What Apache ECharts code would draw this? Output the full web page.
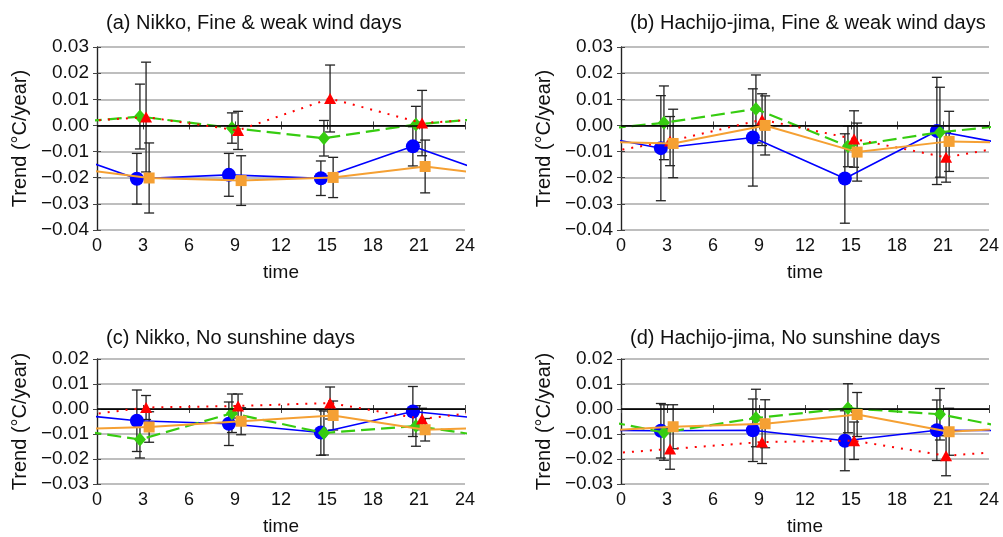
<!DOCTYPE html>
<html>
<head>
<meta charset="utf-8">
<script src="https://cdn.jsdelivr.net/npm/echarts@6/dist/echarts.min.js"></script>
<style>
html,body{margin:0;padding:0;background:#fff;}
#chart{width:1003px;height:537px;}
</style>
</head>
<body>
<div id="chart"></div>
<script>
// ---------------- data ----------------
const times = [3, 9, 15, 21];
const xTicks = [0, 3, 6, 9, 12, 15, 18, 21, 24];

const panelTitles = [
  '(a) Nikko, Fine & weak wind days',
  '(b) Hachijo-jima, Fine & weak wind days',
  '(c) Nikko, No sunshine days',
  '(d) Hachijo-jima, No sunshine days'
];

// Panel (a)
const blueA    = [-0.0204, -0.0189, -0.0202, -0.0080];
const blueAErr = [ 0.0097,  0.0082,  0.0066,  0.0075];
const greenA    = [ 0.0034, -0.0010, -0.0049,  0.0004];
const greenAErr = [ 0.0124,  0.0058,  0.0068,  0.0069];
const redA    = [ 0.0032, -0.0019,  0.0103,  0.0009];
const redAErr = [ 0.0210,  0.0073,  0.0128,  0.0125];
const orangeA    = [-0.0201, -0.0211, -0.0199, -0.0157];
const orangeAErr = [ 0.0134,  0.0095,  0.0077,  0.0101];

// Panel (b)
const blueB    = [-0.0087, -0.0046, -0.0203, -0.0021];
const blueBErr = [ 0.0201,  0.0186,  0.0171,  0.0205];
const greenB    = [ 0.0010,  0.0063, -0.0080, -0.0026];
const greenBErr = [ 0.0141,  0.0130,  0.0078,  0.0172];
const redB    = [-0.0060,  0.0022, -0.0052, -0.0122];
const redBErr = [ 0.0094,  0.0099,  0.0108,  0.0095];
const orangeB    = [-0.0069,  0.0000, -0.0102, -0.0061];
const orangeBErr = [ 0.0131,  0.0113,  0.0111,  0.0115];

// Panel (c)
const blueC    = [-0.0047, -0.0059, -0.0094, -0.0010];
const blueCErr = [ 0.0123,  0.0087,  0.0091,  0.0100];
const greenC    = [-0.0122, -0.0017, -0.0096, -0.0068];
const greenCErr = [ 0.0074,  0.0077,  0.0088,  0.0081];
const redC    = [ 0.0006,  0.0012,  0.0024, -0.0040];
const redCErr = [ 0.0048,  0.0048,  0.0064,  0.0043];
const orangeC    = [-0.0072, -0.0049, -0.0026, -0.0083];
const orangeCErr = [ 0.0061,  0.0054,  0.0058,  0.0045];

// Panel (d)
const blueD    = [-0.0087, -0.0085, -0.0127, -0.0085];
const blueDErr = [ 0.0109,  0.0125,  0.0120,  0.0121];
const greenD    = [-0.0094, -0.0036,  0.0003, -0.0021];
const greenDErr = [ 0.0111,  0.0115,  0.0098,  0.0103];
const redD    = [-0.0160, -0.0132, -0.0127, -0.0187];
const redDErr = [ 0.0081,  0.0086,  0.0075,  0.0080];
const orangeD    = [-0.0071, -0.0059, -0.0022, -0.0091];
const orangeDErr = [ 0.0088,  0.0096,  0.0088,  0.0094];

const yTicksTop    = [-0.04, -0.03, -0.02, -0.01, 0.00, 0.01, 0.02, 0.03];
const yTicksBottom = [-0.03, -0.02, -0.01, 0.00, 0.01, 0.02];

// ---------------- layout / style ----------------
const FONT = 'Liberation Sans, Arial, Helvetica, sans-serif';
const panels = [
  {grid:{left:97, top:47, width:368, height:183}, yt:yTicksTop, title:{left:101, top:8},
   series:[[blueA,blueAErr],[greenA,greenAErr],[redA,redAErr],[orangeA,orangeAErr]]},
  {grid:{left:621, top:47, width:368, height:183}, yt:yTicksTop, title:{left:625, top:8},
   series:[[blueB,blueBErr],[greenB,greenBErr],[redB,redBErr],[orangeB,orangeBErr]]},
  {grid:{left:97, top:359, width:368, height:130}, yt:yTicksBottom, title:{left:101, top:323},
   series:[[blueC,blueCErr],[greenC,greenCErr],[redC,redCErr],[orangeC,orangeCErr]]},
  {grid:{left:621, top:359, width:368, height:130}, yt:yTicksBottom, title:{left:625, top:323},
   series:[[blueD,blueDErr],[greenD,greenDErr],[redD,redDErr],[orangeD,orangeDErr]]}
];

const styles = [
  {off:-0.4, color:'#0000ff', symbol:'circle',   size:14,      line:{width:1.6, type:'solid'}},
  {off:-0.2, color:'#36cc10', symbol:'diamond',  size:[12,14], line:{width:2.2, type:[14,6]}},
  {off: 0.2, color:'#ff0000', symbol:'triangle', size:[12,11], line:{width:2,   type:[2,7]}},
  {off: 0.4, color:'#f5a033', symbol:'rect',     size:11,      line:{width:2,   type:'solid'}}
];

function fmtY(v){
  if (Math.abs(v) < 1e-9) return '0.00';
  return (v < 0 ? '\u2212' : '') + Math.abs(v).toFixed(2);
}

const grids = [], xAxes = [], yAxes = [], series = [], titles = [];
panels.forEach((p, i) => {
  grids.push(Object.assign({containLabel:false}, p.grid));
  titles.push({text: panelTitles[i], left: p.title.left, top: p.title.top,
    textStyle:{fontFamily:FONT, fontSize:20, fontWeight:'normal', color:'#111'}});
  const yMin = p.yt[0], yMax = p.yt[p.yt.length-1];
  const axLine = {show:true, lineStyle:{color:'#222', width:1.2}};
  const tick = {show:true, inside:false, length:4, lineStyle:{color:'#444', width:1}};
  xAxes.push({gridIndex:i, type:'value', position:'bottom', min:xTicks[0], max:xTicks[xTicks.length-1], interval:3,
    axisLine:axLine, axisTick:tick, splitLine:{show:false},
    axisLabel:{fontFamily:FONT, fontSize:18, color:'#111', margin:7},
    name:'time', nameLocation:'middle', nameGap:33, nameTextStyle:{fontFamily:FONT, fontSize:19, color:'#111'}});
  xAxes.push({gridIndex:i, type:'value', position:'top', min:xTicks[0], max:xTicks[xTicks.length-1], interval:3,
    axisLine:axLine, axisTick:tick, splitLine:{show:false}, axisLabel:{show:false}});
  yAxes.push({gridIndex:i, type:'value', position:'left', min:yMin, max:yMax, interval:0.01,
    axisLine:axLine, axisTick:tick,
    splitLine:{show:true, lineStyle:{color:'#a8a8a8', width:1.5}},
    axisLabel:{fontFamily:FONT, fontSize:19, color:'#111', margin:8, formatter:fmtY},
    name:'Trend (\u00B0C/year)', nameLocation:'middle', nameGap:67, nameRotate:90,
    nameTextStyle:{fontFamily:FONT, fontSize:20, color:'#111'}});
  yAxes.push({gridIndex:i, type:'value', position:'right', min:yMin, max:yMax, interval:0.01,
    axisLine:axLine, axisTick:tick, splitLine:{show:false}, axisLabel:{show:false}});

  const xi = i*2, yi = i*2;
  p.series.forEach(([vals, errs], k) => {
    const st = styles[k];
    const data = [];
    data.push({value:[st.off - 3, vals[3]], symbol:'none'});
    times.forEach((t, j) => data.push([t + st.off, vals[j]]));
    data.push({value:[st.off + 27, vals[0]], symbol:'none'});
    // error bars
    series.push({
      type:'custom', xAxisIndex:xi, yAxisIndex:yi, z:1, silent:true,
      data: times.map((t, j) => [t + st.off, vals[j], errs[j]]),
      encode:{x:0, y:1},
      renderItem:function(params, api){
        const x = api.value(0), y = api.value(1), e = api.value(2);
        const a = api.coord([x, y + e]), b = api.coord([x, y - e]);
        const w = 5, s = {stroke:'#222', lineWidth:1.3};
        return {type:'group', children:[
          {type:'line', shape:{x1:a[0], y1:a[1], x2:b[0], y2:b[1]}, style:s},
          {type:'line', shape:{x1:a[0]-w, y1:a[1], x2:a[0]+w, y2:a[1]}, style:s},
          {type:'line', shape:{x1:b[0]-w, y1:b[1], x2:b[0]+w, y2:b[1]}, style:s}
        ]};
      }
    });
    const s = {
      type:'line', xAxisIndex:xi, yAxisIndex:yi, data:data, clip:true,
      symbol:st.symbol, symbolSize:st.size, showAllSymbol:true,
      itemStyle:{color:st.color}, lineStyle:{color:st.color, width:st.line.width, type:st.line.type},
      z:3 + k, animation:false, silent:true
    };
    if (k === 0) {
      s.markLine = {silent:true, symbol:['none','none'], label:{show:false}, animation:false,
        lineStyle:{color:'#000', width:1.6, type:'solid'}, data:[{yAxis:0}]};
    }
    series.push(s);
  });
});

const chart = echarts.init(document.getElementById('chart'), null, {renderer:'canvas'});
chart.setOption({
  animation:false,
  backgroundColor:'#fff',
  title:titles,
  grid:grids,
  xAxis:xAxes,
  yAxis:yAxes,
  series:series
});
</script>
</body>
</html>
